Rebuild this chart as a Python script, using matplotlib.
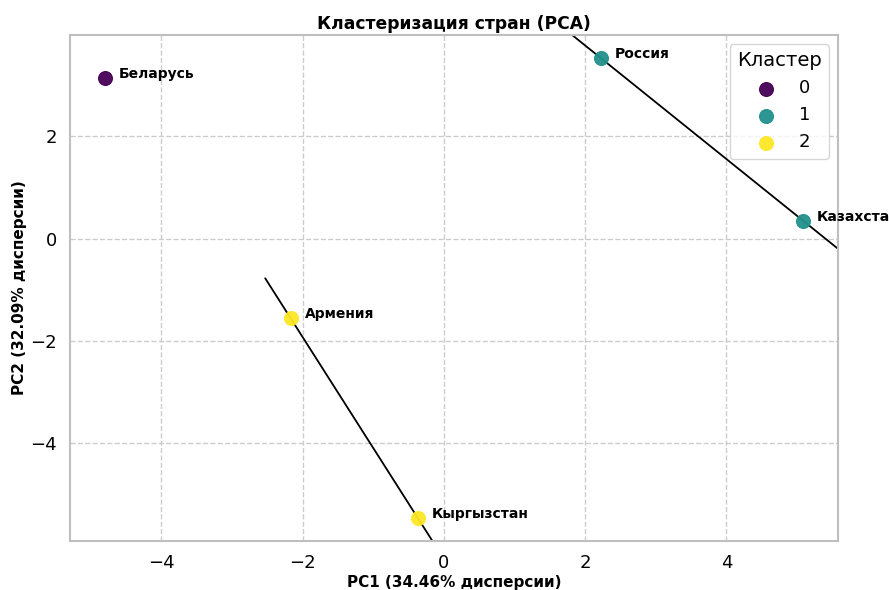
import matplotlib
matplotlib.use("Agg")
import matplotlib.pyplot as plt
import seaborn as sns
import numpy as np

countries = ["Беларусь", "Россия", "Казахстан", "Армения", "Кыргызстан"]
pc1 = [-4.80, 2.22, 5.085, -2.17, -0.37]
pc2 = [3.14, 3.535, 0.35, -1.56, -5.47]
clusters = [0, 1, 1, 2, 2]
cluster_ids = [0, 1, 2]

sns.set_theme(style="whitegrid")
plt.rcParams['font.family'] = ['DejaVu Sans']
plt.rcParams['text.color'] = 'black'
plt.rcParams['axes.labelcolor'] = 'black'
plt.rcParams['xtick.color'] = 'black'
plt.rcParams['ytick.color'] = 'black'

fig = plt.figure(figsize=(8.89, 5.90), dpi=100)
ax = fig.add_axes([0.0787, 0.0831, 0.8639, 0.8576])

cmap = plt.get_cmap("viridis")
colors = {c: cmap(c / 2) for c in cluster_ids}

x = np.array(pc1); y = np.array(pc2); cl = np.array(clusters)
for c in cluster_ids:
    m = cl == c
    ax.scatter(x[m], y[m], s=100, color=colors[c], edgecolor=colors[c],
               linewidth=0.8, alpha=0.95, label=str(c), zorder=3)

ax.margins(0.05)
ax.autoscale_view()
ax.set_xlim(ax.get_xlim())
ax.set_ylim(ax.get_ylim())

for c in cluster_ids:
    m = cl == c
    if m.sum() >= 2:
        xs = x[m]; ys = y[m]
        order = np.argsort(xs)
        xs = xs[order]; ys = ys[order]
        dx = xs[-1] - xs[0]; dy = ys[-1] - ys[0]
        ax.plot([xs[0] - 0.2 * dx, xs[-1] + 0.2 * dx],
                [ys[0] - 0.2 * dy, ys[-1] + 0.2 * dy],
                color="black", linewidth=1.3, zorder=2)

for name, xi, yi in zip(countries, pc1, pc2):
    ax.text(xi + 0.2, yi, name, fontsize=10, fontweight="bold", color="black")

ax.grid(True, linestyle="--", color="#cccccc", linewidth=1.0)
for s in ax.spines.values():
    s.set_color("#bfbfbf")
    s.set_linewidth(1.5)

ax.tick_params(labelsize=13)
ax.set_xticks([-4, -2, 0, 2, 4])
ax.set_yticks([-4, -2, 0, 2])
ax.set_title("Кластеризация стран (PCA)", fontsize=12.3, fontweight="bold", pad=4)
ax.set_xlabel("PC1 (34.46% дисперсии)", fontsize=11, fontweight="bold", labelpad=2)
ax.set_ylabel("PC2 (32.09% дисперсии)", fontsize=11, fontweight="bold", labelpad=2)

leg = ax.legend(title="Кластер", loc="upper right", fontsize=13, title_fontsize=14,
                frameon=True)

fig.savefig("out.png", dpi=100)
